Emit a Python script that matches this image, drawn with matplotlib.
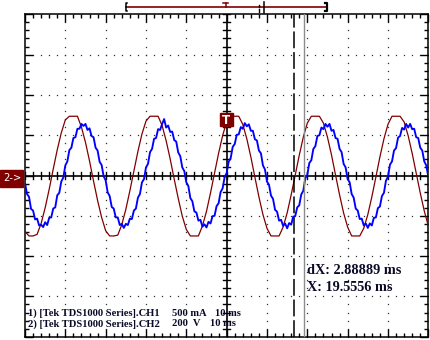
import numpy as np
import matplotlib
matplotlib.use("Agg")
import matplotlib.pyplot as plt
from matplotlib.patches import Rectangle

# ---------------- data (time in ms, amplitude in screen divisions) ----------------
red_t = np.linspace(-50, 50, 101)  # CH2 sample times (1 ms steps)
red_v = [-1.39, -1.50, -1.50, -1.46, -1.19, -0.80, -0.34, 0.16, 0.64, 1.06,
         1.38, 1.47, 1.47, 1.47, 1.20, 0.82, 0.36, -0.14, -0.62, -1.04,
         -1.37, -1.50, -1.50, -1.48, -1.22, -0.84, -0.38, 0.11, 0.60, 1.03,
         1.35, 1.47, 1.47, 1.47, 1.24, 0.86, 0.41, -0.09, -0.57, -1.01,
         -1.34, -1.50, -1.50, -1.50, -1.25, -0.89, -0.43, 0.06, 0.55, 0.99,
         1.33, 1.47, 1.47, 1.47, 1.27, 0.91, 0.46, -0.04, -0.53, -0.97,
         -1.31, -1.50, -1.50, -1.50, -1.28, -0.93, -0.48, 0.01, 0.50, 0.95,
         1.30, 1.47, 1.47, 1.47, 1.30, 0.95, 0.51, 0.01, -0.48, -0.93,
         -1.28, -1.50, -1.50, -1.50, -1.31, -0.97, -0.53, -0.04, 0.46, 0.91,
         1.27, 1.47, 1.47, 1.47, 1.33, 0.99, 0.55, 0.06, -0.43, -0.88,
         -1.25]

blue_t = np.linspace(-50, 50, 201)  # CH1 sample times (0.5 ms steps)
blue_v = [-0.19, -0.46, -0.53, -0.83, -0.87, -1.09, -1.07, -1.24, -1.22, -1.28,
          -1.16, -1.23, -1.05, -1.04, -0.82, -0.79, -0.49, -0.43, -0.15, -0.05,
          0.25, 0.35, 0.63, 0.69, 0.93, 0.95, 1.16, 1.16, 1.28, 1.23,
          1.28, 1.13, 1.17, 0.98, 0.95, 0.69, 0.62, 0.34, 0.26, -0.02,
          -0.12, -0.42, -0.51, -0.78, -0.82, -1.04, -1.04, -1.23, -1.20, -1.30,
          -1.20, -1.23, -1.07, -1.08, -0.87, -0.82, -0.55, -0.46, -0.17, -0.09,
          0.20, 0.29, 0.58, 0.66, 0.91, 0.93, 1.15, 1.13, 1.28, 1.40,
          1.19, 1.24, 1.08, 1.09, 0.88, 0.84, 0.57, 0.48, 0.20, 0.11,
          -0.17, -0.26, -0.56, -0.64, -0.89, -0.92, -1.12, -1.10, -1.27, -1.21,
          -1.29, -1.15, -1.19, -1.01, -1.00, -0.76, -0.69, -0.41, -0.32, -0.04,
          0.06, 0.34, 0.43, 0.71, 0.78, 1.01, 1.02, 1.20, 1.16, 1.30,
          1.22, 1.27, 1.11, 1.11, 0.90, 0.87, 0.62, 0.55, 0.25, 0.15,
          -0.15, -0.23, -0.50, -0.58, -0.85, -0.90, -1.12, -1.10, -1.25, -1.19,
          -1.31, -1.18, -1.22, -1.02, -1.01, -0.79, -0.74, -0.47, -0.38, -0.07,
          0.02, 0.31, 0.38, 0.66, 0.73, 0.98, 1.00, 1.19, 1.15, 1.28,
          1.21, 1.28, 1.11, 1.13, 0.93, 0.91, 0.66, 0.58, 0.29, 0.20,
          -0.09, -0.17, -0.46, -0.55, -0.82, -0.87, -1.08, -1.07, -1.24, -1.19,
          -1.30, -1.19, -1.24, -1.05, -1.04, -0.81, -0.77, -0.51, -0.43, -0.13,
          -0.03, 0.27, 0.35, 0.62, 0.68, 0.94, 0.98, 1.18, 1.14, 1.28,
          1.19, 1.28, 1.15, 1.16, 0.95, 0.93, 0.69, 0.62, 0.35, 0.25,
          -0.03]

cursor_dashed_t = 16.6
cursor_solid_t = 19.25

ch_labels = ["1) [Tek TDS1000 Series].CH1", "2) [Tek TDS1000 Series].CH2"]
ch_scales = ["500 mA", "200  V"]
timebase = "10 ms"
cursor_texts = ["dX: 2.88889 ms", "X: 19.5556 ms"]
trig_label = "T"
ch2_marker = "2->"

# ---------------- figure ----------------
W, H = 431, 340
fig = plt.figure(figsize=(W / 100, H / 100), dpi=100)
fig.patch.set_facecolor("white")

x0, x1, yt, yb = 25.0, 428.3, 14.3, 336.7
ax = fig.add_axes([x0 / W, (H - yb) / H, (x1 - x0) / W, (yb - yt) / H])
ax.set_xlim(-50, 50)
ax.set_ylim(-4, 4)
ax.set_facecolor("white")

# border with ticks
for s in ax.spines.values():
    s.set_linewidth(1.1)
    s.set_color("black")
ax.set_xticks(np.arange(-50, 51, 10))
ax.set_xticks(np.arange(-50, 51, 2), minor=True)
ax.set_yticks(np.arange(-4, 4.01, 1))
ax.set_yticks(np.arange(-4, 4.01, 0.2), minor=True)
ax.tick_params(which="both", direction="in", top=True, right=True,
               labelbottom=False, labelleft=False, color="black", width=1.0)
ax.tick_params(which="major", length=5.5)
ax.tick_params(which="minor", length=2.6)

# dotted grid
gx = np.arange(-40, 41, 10)
gy = np.arange(-3, 3.01, 1)
sub_x = np.arange(-50, 50.01, 2)
sub_y = np.arange(-4, 4.01, 0.2)
px, py = [], []
for g in gx:
    if g == 0:
        continue
    px += [g] * len(sub_y)
    py += list(sub_y)
for g in gy:
    if abs(g) < 1e-9:
        continue
    px += list(sub_x)
    py += [g] * len(sub_x)
ax.plot(px, py, ls="none", marker="s", ms=0.9, mec="none", mfc="#303030", zorder=1)

# centre axes with ticks
ax.axhline(0, color="black", lw=1.2, zorder=2)
ax.axvline(0, color="black", lw=1.2, zorder=2)
tx = 3.5 / 40.33 * 10
ty = 3.5 / 40.3
for v in np.arange(-50, 50.01, 2):
    ax.plot([v, v], [-ty, ty], color="black", lw=1.0, zorder=2)
for v in np.arange(-4, 4.01, 0.2):
    ax.plot([-tx, tx], [v, v], color="black", lw=1.0, zorder=2)

# cursors
ax.axvline(cursor_dashed_t, color="black", lw=1.1, dashes=(11, 2.5), zorder=5)
ax.axvline(cursor_solid_t, color="#8c8c8c", lw=1.0, zorder=5)

# waveforms
ax.plot(red_t, red_v, color="#800000", lw=0.9, zorder=3)
ax.plot(blue_t, blue_v, color="#0000ff", lw=1.35, zorder=4)

# ---------------- overlay (pixel coordinates) ----------------
ov = fig.add_axes([0, 0, 1, 1], zorder=10)
ov.set_xlim(0, W)
ov.set_ylim(H, 0)
ov.axis("off")
ov.patch.set_alpha(0)

dark_red = "#800000"
# record bar
ov.plot([126, 327], [7, 7], color=dark_red, lw=1.2)
ov.plot([127.5, 125.7, 125.7, 127.5], [3, 3, 11, 11], color="black", lw=1.1)
ov.plot([324.8, 326.7, 326.7, 324.8], [3, 3, 11, 11], color="black", lw=1.6)
ov.plot([225.7, 225.7], [3, 7], color=dark_red, lw=1.1)
ov.plot([223.2, 228.2], [3, 3], color=dark_red, lw=1.1)
ov.plot([259.3, 259.3], [5, 6.8], color="black", lw=1.0)
ov.plot([259.3, 259.3], [9.3, 12.3], color="black", lw=1.0)
ov.plot([264.3, 264.3], [2.3, 12.7], color="black", lw=1.1)

# trigger marker
ov.add_patch(Rectangle((220, 113.3), 12.7, 13, color=dark_red, zorder=11))
ov.text(226.4, 120.2, trig_label, color="white", fontsize=8.5, fontweight="bold",
        family="DejaVu Sans", ha="center", va="center", zorder=12)

# channel 2 marker
ov.add_patch(Rectangle((0, 170), 22.7, 17.3, color=dark_red, zorder=11))
ov.text(12.5, 178.4, ch2_marker, color="white", fontsize=7.2,
        family="DejaVu Sans", ha="center", va="center", zorder=12)

# channel info text
tcol = "#0a0a28"
fserif = ["Liberation Serif", "DejaVu Serif"]
for i, (lab, sc) in enumerate(zip(ch_labels, ch_scales)):
    base = 315.5 + 11 * i
    ov.text(28, base, lab, color=tcol, fontsize=7.6, fontweight="bold",
            family=fserif, ha="left", va="baseline", zorder=12)
    ov.text(171.7, base, sc, color=tcol, fontsize=7.6, fontweight="bold",
            family=fserif, ha="left", va="baseline", zorder=12)
    ov.text(215 - 5 * i, base, timebase, color=tcol, fontsize=7.6, fontweight="bold",
            family=fserif, ha="left", va="baseline", zorder=12)

# cursor readout
for i, s in enumerate(cursor_texts):
    ov.text(306.7, 274 + 17 * i, s, color=tcol, fontsize=10.3, fontweight="bold",
            family=fserif, ha="left", va="baseline", zorder=12)

fig.savefig("out.png", dpi=100, facecolor="white")
